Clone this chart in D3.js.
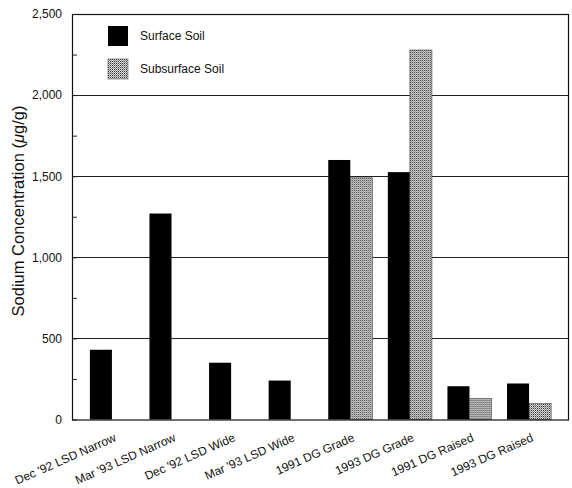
<!DOCTYPE html>
<html>
<head>
<script src="https://d3js.org/d3.v7.min.js"></script>
<style>
  body { margin: 0; background: #fff; }
  svg text { font-family: 'Liberation Sans', Arial, sans-serif; fill: #111; }
  .grid line { stroke: #222; stroke-width: 1; }
</style>
</head>
<body>
<div id="chart"></div>
<script>
var categories = ["Dec '92 LSD Narrow", "Mar '93 LSD Narrow", "Dec '92 LSD Wide", "Mar '93 LSD Wide",
                  "1991 DG Grade", "1993 DG Grade", "1991 DG Raised", "1993 DG Raised"];
var surface = [430, 1270, 350, 240, 1600, 1525, 205, 222];
var subsurface = [null, null, null, null, 1490, 2278, 130, 98];
var seriesNames = ["Surface Soil", "Subsurface Soil"];
var yTicks = [0, 500, 1000, 1500, 2000, 2500];

var W = 572, H = 488;
var margin = {top: 14, right: 3, bottom: 68, left: 72};

var svg = d3.select("#chart").append("svg")
  .attr("width", W).attr("height", H);

// stipple pattern for the subsurface bars
var defs = svg.append("defs");
var pat = defs.append("pattern")
  .attr("id", "stipple")
  .attr("patternUnits", "userSpaceOnUse")
  .attr("width", 2).attr("height", 2);
pat.append("rect").attr("width", 2).attr("height", 2).attr("fill", "#d8d8d8");
pat.append("rect").attr("x", 0).attr("y", 0).attr("width", 1).attr("height", 1).attr("fill", "#3a3a3a");
pat.append("rect").attr("x", 1).attr("y", 1).attr("width", 1).attr("height", 1).attr("fill", "#909090");

var x = d3.scaleBand()
  .domain(categories)
  .range([margin.left, W - margin.right])
  .paddingInner(0.26)
  .paddingOuter(0.3);

var xs = d3.scaleBand()
  .domain(seriesNames)
  .range([0, x.bandwidth()]);

var y = d3.scaleLinear()
  .domain([0, 2500])
  .range([H - margin.bottom - 0.5, margin.top]);

// horizontal gridlines
svg.append("g").attr("class", "grid")
  .selectAll("line").data(yTicks.slice(1, -1)).enter()
  .append("line")
  .attr("x1", margin.left).attr("x2", W - margin.right)
  .attr("y1", function(d) { return Math.round(y(d)) + 0.5; })
  .attr("y2", function(d) { return Math.round(y(d)) + 0.5; });

// bars
var groups = svg.append("g").selectAll("g").data(categories).enter()
  .append("g")
  .attr("transform", function(d) { return "translate(" + x(d) + ",0)"; });

groups.append("rect")
  .attr("x", xs("Surface Soil"))
  .attr("width", xs.bandwidth())
  .attr("y", function(d, i) { return y(surface[i]); })
  .attr("height", function(d, i) { return y(0) - y(surface[i]); })
  .attr("fill", "#000");

groups.filter(function(d, i) { return subsurface[i] != null; })
  .append("rect")
  .attr("x", xs("Subsurface Soil"))
  .attr("width", xs.bandwidth())
  .attr("y", function(d) { return y(subsurface[categories.indexOf(d)]); })
  .attr("height", function(d) { return y(0) - y(subsurface[categories.indexOf(d)]); })
  .attr("fill", "url(#stipple)")
  .attr("stroke", "#444")
  .attr("stroke-width", 0.6);

// frame
svg.append("rect")
  .attr("x", margin.left + 0.5).attr("y", margin.top + 0.5)
  .attr("width", W - margin.right - margin.left - 1)
  .attr("height", y(0) - margin.top)
  .attr("fill", "none").attr("stroke", "#111").attr("stroke-width", 1.2);

// y axis: labels and small inward ticks
var yAxis = d3.axisLeft(y)
  .tickValues(d3.range(0, 2501, 250))
  .tickSize(-5)
  .tickPadding(10)
  .tickFormat(function(d) { return d % 500 === 0 ? d3.format(",")(d) : ""; });
var ya = svg.append("g")
  .attr("transform", "translate(" + margin.left + ",0)")
  .call(yAxis);
ya.select(".domain").remove();
ya.selectAll("line").attr("stroke", "#222");
ya.selectAll("text").style("font-size", "12px").attr("fill", "#111");

// y axis title
var yt = svg.append("text")
  .attr("transform", "translate(24,211) rotate(-90)")
  .attr("text-anchor", "middle")
  .style("font-size", "16.5px");
yt.append("tspan").text("Sodium Concentration (");
yt.append("tspan").style("font-style", "italic").text("\u03bc");
yt.append("tspan").text("g/g)");

// x labels, rotated
svg.append("g").selectAll("text").data(categories).enter()
  .append("text")
  .attr("transform", function(d) {
    return "translate(" + (x(d) + x.bandwidth() / 2 + 5) + "," + (y(0) + 21) + ") rotate(-24)";
  })
  .attr("text-anchor", "end")
  .style("font-size", "12px")
  .text(function(d) { return d; });

// legend
var legend = svg.append("g").selectAll("g").data(seriesNames).enter()
  .append("g")
  .attr("transform", function(d, i) { return "translate(108," + (26 + i * 33) + ")"; });
legend.append("rect")
  .attr("width", 20).attr("height", 20)
  .attr("fill", function(d, i) { return i === 0 ? "#000" : "url(#stipple)"; })
  .attr("stroke", function(d, i) { return i === 0 ? "none" : "#555"; })
  .attr("stroke-width", 0.6);
legend.append("text")
  .attr("x", 32).attr("y", 10).attr("dy", "0.35em")
  .style("font-size", "12px")
  .text(function(d) { return d; });
</script>
</body>
</html>
